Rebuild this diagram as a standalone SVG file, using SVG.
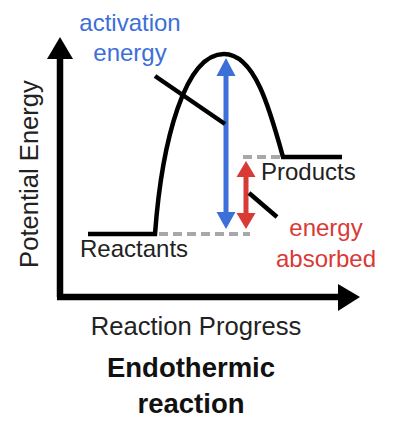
<svg xmlns="http://www.w3.org/2000/svg" width="398" height="438" viewBox="0 0 398 438">
<style>
.t{font-family:"Liberation Sans",Arial,sans-serif;font-size:24px;fill:#222}
.ax{font-size:25.6px}
.b{font-family:"Liberation Sans",Arial,sans-serif;font-size:27.5px;font-weight:bold;fill:#111;text-anchor:middle}
.blue{fill:#3d6fd9}
.red{fill:#d93a36}
.blk{stroke:#000;stroke-width:4.5;fill:none}
.dash{stroke:#a8a8a8;stroke-width:4;stroke-dasharray:9 5;fill:none}
</style>
<rect width="398" height="438" fill="#fff"/>
<g id="axes">
<line x1="60" y1="56" x2="60" y2="297" stroke="#000" stroke-width="6.5"/>
<polygon points="60,37 47,59 73,59" fill="#000"/>
<line x1="57" y1="297" x2="340" y2="297" stroke="#000" stroke-width="6.5"/>
<polygon points="360,297 338,284 338,311" fill="#000"/>
<text class="t ax" x="38" y="174" text-anchor="middle" transform="rotate(-90 38 174)">Potential Energy</text>
<text class="t ax" x="196" y="335" text-anchor="middle">Reaction Progress</text>
</g>
<g id="curve">
<path class="blk" d="M88,234 L155,234 C162,140 185,54 224,54 C255,54 270,110 283,157 L342,157"/>
</g>
<g id="levels">
<line class="dash" x1="159" y1="234" x2="250" y2="234"/>
<line class="dash" x1="243" y1="157" x2="281" y2="157"/>
</g>
<g id="reactants"><text class="t" x="80" y="257">Reactants</text></g>
<g id="products"><text class="t" x="261" y="180">Products</text></g>
<g id="activation">
<line x1="226" y1="72" x2="226" y2="216" stroke="#3d6fd9" stroke-width="5"/>
<polygon points="226,58 216.5,76 235.5,76" fill="#3d6fd9"/>
<polygon points="226,229 216.5,212 235.5,212" fill="#3d6fd9"/>
<text class="t blue" x="130" y="31" text-anchor="middle">activation</text>
<text class="t blue" x="130" y="61" text-anchor="middle">energy</text>
</g>
<g id="absorbed">
<line x1="246" y1="172" x2="246" y2="217" stroke="#d93a36" stroke-width="5"/>
<polygon points="246,161 236.5,177 255.5,177" fill="#d93a36"/>
<polygon points="246,229 236.5,213 255.5,213" fill="#d93a36"/>
<text class="t red" x="326" y="236" text-anchor="middle">energy</text>
<text class="t red" x="326" y="267" text-anchor="middle">absorbed</text>
</g>
<g id="connectors">
<line class="blk" x1="155" y1="76" x2="225" y2="124" stroke-width="4"/>
<line class="blk" x1="249" y1="193" x2="277" y2="217" stroke-width="4"/>
</g>
<g id="title">
<text class="b" x="191" y="377">Endothermic</text>
<text class="b" x="191" y="413">reaction</text>
</g>
</svg>
